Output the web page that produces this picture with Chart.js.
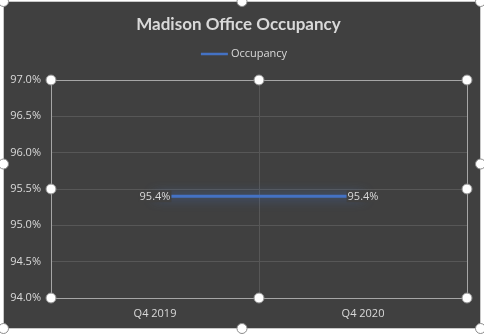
<!DOCTYPE html>
<html>
<head>
<meta charset="utf-8">
<script src="https://cdn.jsdelivr.net/npm/chart.js@4.4.0/dist/chart.umd.min.js"></script>
<style>
  html, body { margin: 0; padding: 0; background: #ffffff; }
  #wrap { width: 484px; height: 335px; }
</style>
</head>
<body>
<div id="wrap"><canvas id="occChart" width="484" height="335"></canvas></div>
<script>
const quarters = ['Q4 2019', 'Q4 2020'];
const occupancy = [95.4, 95.4];
const seriesName = 'Occupancy';
const yMin = 94.0, yMax = 97.0, yStep = 0.5;

const bgColor = '#404040';
const textColor = '#d9d9d9';
const lineColor = '#4472c4';

// chart background + frame (the dark box with a light edge)
const frame = {
  id: 'frame',
  beforeDraw(chart) {
    const ctx = chart.ctx;
    ctx.save();
    ctx.fillStyle = '#ffffff';
    ctx.fillRect(0, 0, chart.width, chart.height);
    ctx.fillStyle = bgColor;
    ctx.fillRect(3, 1, 478, 328);
    ctx.strokeStyle = '#c8c8c8';
    ctx.lineWidth = 1;
    ctx.strokeRect(3.5, 1.5, 477, 327);

    // legend: short line + series name, centred under the title
    ctx.font = '11px "Open Sans", sans-serif';
    ctx.textBaseline = 'middle';
    const tw = ctx.measureText(seriesName).width;
    const total = 27 + 3 + tw;
    const x0 = chart.width / 2 + 2 - total / 2;
    const ly = 54;
    ctx.strokeStyle = lineColor;
    ctx.lineWidth = 2.5;
    ctx.beginPath();
    ctx.moveTo(x0, ly);
    ctx.lineTo(x0 + 27, ly);
    ctx.stroke();
    ctx.fillStyle = textColor;
    ctx.textAlign = 'left';
    ctx.fillText(seriesName, x0 + 30, ly);
    ctx.restore();
  },
  afterDraw(chart) {
    const ctx = chart.ctx;
    const a = chart.chartArea;
    ctx.save();
    // plot area border
    ctx.strokeStyle = '#a6a6a6';
    ctx.lineWidth = 1;
    ctx.strokeRect(Math.round(a.left) + 0.5, Math.round(a.top) + 0.5,
      Math.round(a.right - a.left), Math.round(a.bottom - a.top));
    // selection handles
    const handle = (x, y) => {
      ctx.beginPath();
      ctx.arc(x, y, 5, 0, Math.PI * 2);
      ctx.fillStyle = '#ffffff';
      ctx.fill();
      ctx.strokeStyle = '#8c8c8c';
      ctx.lineWidth = 1;
      ctx.stroke();
    };
    const mx = (a.left + a.right) / 2, my = (a.top + a.bottom) / 2;
    [[a.left, a.top], [mx, a.top], [a.right, a.top],
     [a.left, my], [a.right, my],
     [a.left, a.bottom], [mx, a.bottom], [a.right, a.bottom]].forEach(p => handle(p[0], p[1]));
    const fx = [3.5, 242, 480.5], fy = [1.5, 164, 328.5];
    fx.forEach((x, i) => fy.forEach((y, j) => {
      if (i === 1 && j === 1) return;
      handle(x, y);
    }));
    ctx.restore();
  }
};

// soft glow under the line
const glow = {
  id: 'glow',
  beforeDatasetDraw(chart) {
    const ctx = chart.ctx;
    ctx.save();
    ctx.shadowColor = 'rgba(68, 114, 196, 0.9)';
    ctx.shadowBlur = 12;
  },
  afterDatasetDraw(chart) {
    chart.ctx.restore();
  }
};

// value labels on the points
const valueLabels = {
  id: 'valueLabels',
  afterDatasetsDraw(chart) {
    const ctx = chart.ctx;
    const meta = chart.getDatasetMeta(0);
    ctx.save();
    ctx.font = '11px "Open Sans", sans-serif';
    ctx.textAlign = 'center';
    ctx.textBaseline = 'middle';
    meta.data.forEach((pt, i) => {
      const txt = occupancy[i].toFixed(1) + '%';
      const w = ctx.measureText(txt).width;
      ctx.fillStyle = bgColor;
      ctx.fillRect(pt.x - w / 2 - 1, pt.y - 6, w + 2, 12);
      ctx.fillStyle = textColor;
      ctx.fillText(txt, pt.x, pt.y + 1);
    });
    ctx.restore();
  }
};

new Chart(document.getElementById('occChart'), {
  type: 'line',
  data: {
    labels: quarters,
    datasets: [{
      label: seriesName,
      data: occupancy,
      borderColor: lineColor,
      backgroundColor: lineColor,
      borderWidth: 3,
      pointRadius: 0,
      tension: 0,
      fill: false
    }]
  },
  options: {
    responsive: false,
    animation: false,
    layout: { padding: { left: 10, right: 17, top: 3, bottom: 7 } },
    plugins: {
      title: {
        display: true,
        text: 'Madison Office Occupancy',
        color: textColor,
        font: { family: 'Lato, "Open Sans", sans-serif', size: 17, weight: 'bold' },
        padding: { top: 11, bottom: 45.6 }
      },
      legend: { display: false },
      tooltip: { enabled: false }
    },
    scales: {
      x: {
        offset: true,
        grid: { offset: true, color: '#575757', drawTicks: false },
        border: { display: false },
        ticks: {
          color: textColor,
          font: { family: '"Open Sans", sans-serif', size: 11 },
          padding: 9
        },
        afterFit: s => { s.height = 30; }
      },
      y: {
        min: yMin,
        max: yMax,
        grid: { color: '#575757', drawTicks: false },
        border: { display: false },
        ticks: {
          stepSize: yStep,
          color: textColor,
          font: { family: '"Open Sans", sans-serif', size: 11 },
          padding: 10,
          callback: v => v.toFixed(1) + '%'
        },
        afterFit: s => { s.width = 41; }
      }
    }
  },
  plugins: [frame, glow, valueLabels]
});
</script>
</body>
</html>
